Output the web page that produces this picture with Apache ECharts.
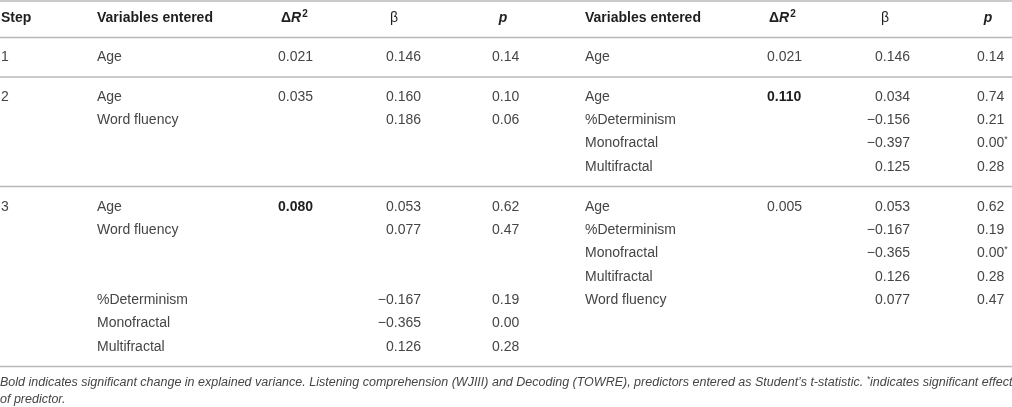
<!DOCTYPE html>
<html>
<head>
<meta charset="utf-8">
<script src="https://cdn.jsdelivr.net/npm/echarts@6/dist/echarts.min.js"></script>
<style>html,body{margin:0;padding:0;background:#fff}#c{width:1012px;height:407px}</style>
</head>
<body>
<div id="c"></div>
<script>
// ---- table content ----
var headers = ['Step', 'Variables entered', 'ΔR2', 'β', 'p', 'Variables entered', 'ΔR2', 'β', 'p'];
var steps = ['1', '2', '', '', '', '3', '', '', '', '', '', ''];
var leftVars = ['Age', 'Age', 'Word fluency', '', '', 'Age', 'Word fluency', '', '', '%Determinism', 'Monofractal', 'Multifractal'];
var leftDeltaR2 = ['0.021', '0.035', '', '', '', '0.080', '', '', '', '', '', ''];
var leftBeta = ['0.146', '0.160', '0.186', '', '', '0.053', '0.077', '', '', '\u22120.167', '\u22120.365', '0.126'];
var leftP = ['0.14', '0.10', '0.06', '', '', '0.62', '0.47', '', '', '0.19', '0.00', '0.28'];
var rightVars = ['Age', 'Age', '%Determinism', 'Monofractal', 'Multifractal', 'Age', '%Determinism', 'Monofractal', 'Multifractal', 'Word fluency', '', ''];
var rightDeltaR2 = ['0.021', '0.110', '', '', '', '0.005', '', '', '', '', '', ''];
var rightBeta = ['0.146', '0.034', '\u22120.156', '\u22120.397', '0.125', '0.053', '\u22120.167', '\u22120.365', '0.126', '0.077', '', ''];
var rightP = ['0.14', '0.74', '0.21', '0.00*', '0.28', '0.62', '0.19', '0.00*', '0.28', '0.47', '', ''];
var boldCells = ['2:5', '6:1']; // column:row of significant ΔR²
var footnote1 = 'Bold indicates significant change in explained variance. Listening comprehension (WJIII) and Decoding (TOWRE), predictors entered as Student\u2019s t-statistic. ';
var footnote1b = 'indicates significant effect';
var footnote2 = 'of predictor.';

// ---- layout (positions in the chart's own coordinate space) ----
var columns = [
  {x: 1, align: 'left', hx: 1, halign: 'left'},
  {x: 97, align: 'left', hx: 97, halign: 'left'},
  {x: 313, align: 'right', hx: 281, halign: 'left'},
  {x: 421, align: 'right', hx: 394, halign: 'center'},
  {x: 492, align: 'left', hx: 503, halign: 'center'},
  {x: 585, align: 'left', hx: 585, halign: 'left'},
  {x: 767, align: 'left', hx: 769, halign: 'left'},
  {x: 910, align: 'right', hx: 885, halign: 'center'},
  {x: 977, align: 'left', hx: 988, halign: 'center'}
];
var headerY = 18.5;
var rowY = [57.5, 97, 120.5, 143.5, 167, 207, 230.5, 253.5, 277, 300.5, 323.5, 347];
var ruleY = [1, 37.5, 77, 186.5, 366.5];
var footY = [382.5, 400];

var cols = [steps, leftVars, leftDeltaR2, leftBeta, leftP, rightVars, rightDeltaR2, rightBeta, rightP];

var FONT = '"Liberation Sans", Arial, Helvetica, sans-serif';
var BODY = '#454545';
var HEAD = '#1e1e1e';
var FOOT = '12.5px ';

var cells = [];
headers.forEach(function (h, c) {
  cells.push({value: [columns[c].hx, headerY], kind: 'head', text: h, align: columns[c].halign, col: c});
});
cols.forEach(function (arr, c) {
  arr.forEach(function (t, r) {
    if (!t) return;
    cells.push({value: [columns[c].x, rowY[r]], kind: boldCells.indexOf(c + ':' + r) >= 0 ? 'bold' : 'body', text: t, align: columns[c].align, col: c});
  });
});
cells.push({value: [0, footY[0]], kind: 'foot1', text: footnote1, align: 'left'});
cells.push({value: [0, footY[1]], kind: 'foot', text: footnote2, align: 'left'});

function cellStyle(d) {
  var s = {textAlign: d.align, textVerticalAlign: 'middle', font: '14px ' + FONT, fill: BODY};
  if (d.kind === 'head') {
    if (d.text === 'ΔR2') {
      s.text = '{d|Δ}{r|R}{s|2}';
      s.rich = {
        d: {font: 'bold 14px ' + FONT, fill: HEAD},
        r: {font: 'italic bold 14px ' + FONT, fill: HEAD},
        s: {font: 'bold 10px ' + FONT, fill: HEAD, padding: [0, 0, 8, 1]}
      };
    } else if (d.text === 'p') {
      s.text = d.text; s.font = 'italic bold 14px ' + FONT; s.fill = HEAD;
    } else if (d.text === 'β') {
      s.text = d.text; s.font = '14px ' + FONT; s.fill = HEAD;
    } else {
      s.text = d.text; s.font = 'bold 14px ' + FONT; s.fill = HEAD;
    }
  } else if (d.kind === 'bold') {
    s.text = d.text; s.font = 'bold 14px ' + FONT; s.fill = HEAD;
  } else if (d.kind === 'foot1') {
    s.text = '{t|' + d.text + '}{a|*}{t|' + footnote1b + '}';
    s.rich = {
      t: {font: 'italic ' + FOOT + FONT, fill: BODY},
      a: {font: 'italic 8.5px ' + FONT, fill: BODY, padding: [0, 0, 6, 0]}
    };
  } else if (d.kind === 'foot') {
    s.text = d.text; s.font = 'italic ' + FOOT + FONT;
  } else if (d.text.indexOf('*') >= 0) {
    s.text = '{n|' + d.text.replace('*', '') + '}{a|*}';
    s.rich = {
      n: {font: '14px ' + FONT, fill: BODY},
      a: {font: '9px ' + FONT, fill: BODY, padding: [0, 0, 7, 0]}
    };
  } else {
    s.text = d.text;
  }
  return s;
}

var chart = echarts.init(document.getElementById('c'), null, {renderer: 'canvas'});
chart.setOption({
  animation: false,
  backgroundColor: '#fff',
  grid: {left: 0, right: 0, top: 0, bottom: 0},
  xAxis: {type: 'value', min: 0, max: 1012, show: false},
  yAxis: {type: 'value', min: 0, max: 407, inverse: true, show: false},
  series: [
    {
      type: 'custom',
      data: ruleY.map(function (y) { return [y]; }),
      encode: {y: 0},
      renderItem: function (params, api) {
        var y = api.value(0);
        var a = api.coord([0, y]);
        var b = api.coord([1012, y]);
        return {type: 'line', shape: {x1: a[0], y1: a[1], x2: b[0], y2: b[1]},
          style: {stroke: '#b8b8b8', lineWidth: 1.5}};
      }
    },
    {
      type: 'custom',
      data: cells,
      encode: {x: 0, y: 1},
      renderItem: function (params, api) {
        var d = cells[params.dataIndex];
        var p = api.coord([api.value(0), api.value(1)]);
        return {type: 'text', x: p[0], y: p[1], style: cellStyle(d)};
      }
    }
  ]
});
</script>
</body>
</html>
